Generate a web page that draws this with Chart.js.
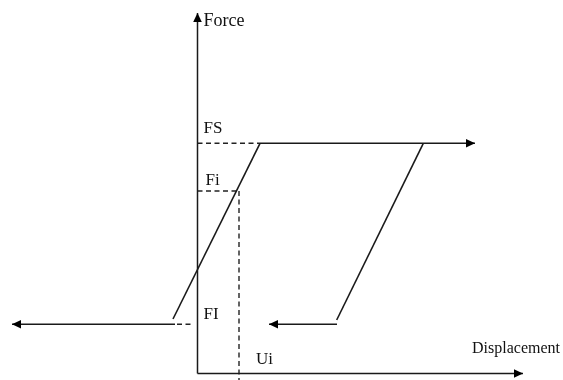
<!DOCTYPE html>
<html>
<head>
<meta charset="utf-8">
<script src="https://cdn.jsdelivr.net/npm/chart.js@4/dist/chart.umd.min.js"></script>
<style>
  html, body { margin: 0; padding: 0; background: #ffffff; }
  #wrap { width: 563px; height: 380px; }
</style>
</head>
<body>
<div id="wrap"><canvas id="c" width="563" height="380"></canvas></div>
<script>
// ---- data (displacement units, force units) ----
const axisNames   = ['Displacement', 'Force'];
const axisEnds    = [32.55, 36.05];          // x-axis end, y-axis end
const loadX       = [-2.45, 6.25];
const loadY       = [5.45, 23.02];
const yieldX      = [6.25, 27.75];
const yieldY      = [23.02, 23.02];
const unloadX     = [13.92, 22.58];
const unloadY     = [5.35, 23.02];
const returnX     = [13.95, 7.15];
const returnY     = [4.92, 4.92];
const leftX       = [-2.25, -18.55];
const leftY       = [4.92, 4.92];
const levelNames  = ['FS', 'Fi', 'FI'];
const levelValues = [23.02, 18.25, 4.92];
const uiName      = 'Ui';
const uiValue     = 4.15;
const flBridgeX   = [-2.05, -0.4];           // dashed bit on the FI level

const pts = (xs, ys) => xs.map((x, i) => ({ x: x, y: ys[i] }));
const INK = '#1a1a1a';

function solid(data, arrow, w) {
  return { data: data, showLine: true, borderColor: INK, borderWidth: w || 1.6,
           pointRadius: 0, tension: 0, fill: false, arrow: !!arrow };
}
function dashed(data) {
  return { data: data, showLine: true, borderColor: '#222', borderWidth: 1.4,
           borderDash: [5, 3.5], pointRadius: 0, tension: 0, fill: false };
}

const datasets = [
  solid(pts([0, 0], [0, axisEnds[1]]), true, 1.5),                 // force axis
  solid(pts([0, axisEnds[0]], [0, 0]), true, 1.5),                 // displacement axis
  solid(pts(loadX, loadY)),
  solid(pts(yieldX, yieldY), true),
  solid(pts(unloadX, unloadY)),
  solid(pts(returnX, returnY), true),
  solid(pts(leftX, leftY), true),
  dashed(pts([0, yieldX[0]], [levelValues[0], levelValues[0]])),   // FS guide
  dashed(pts([0, uiValue], [levelValues[1], levelValues[1]])),     // Fi guide
  dashed(pts([uiValue, uiValue], [levelValues[1], -0.9])),         // Ui guide
  dashed(pts(flBridgeX, [levelValues[2], levelValues[2]]))         // FI guide
];

const arrowPlugin = {
  id: 'arrows',
  afterDatasetsDraw(chart) {
    const ctx = chart.ctx;
    chart.data.datasets.forEach((ds, i) => {
      if (!ds.arrow) return;
      const els = chart.getDatasetMeta(i).data;
      const a = els[els.length - 2], b = els[els.length - 1];
      const ang = Math.atan2(b.y - a.y, b.x - a.x);
      const L = 9, H = 4.3;
      ctx.save();
      ctx.fillStyle = '#000';
      ctx.translate(b.x, b.y);
      ctx.rotate(ang);
      ctx.beginPath();
      ctx.moveTo(0, 0);
      ctx.lineTo(-L, -H);
      ctx.lineTo(-L, H);
      ctx.closePath();
      ctx.fill();
      ctx.restore();
    });
  }
};

const textPlugin = {
  id: 'texts',
  afterDraw(chart) {
    const ctx = chart.ctx, xs = chart.scales.x, ys = chart.scales.y;
    const x0 = xs.getPixelForValue(0), y0 = ys.getPixelForValue(0);
    ctx.save();
    ctx.fillStyle = '#111';
    ctx.textBaseline = 'alphabetic';
    ctx.textAlign = 'left';
    ctx.font = '18px "Liberation Serif", serif';
    ctx.fillText(axisNames[1], x0 + 6, ys.getPixelForValue(axisEnds[1]) + 13);
    ctx.font = '17px "Liberation Serif", serif';
    const offs = [-10, -6, -5];
    levelNames.forEach((n, i) => {
      ctx.fillText(n, x0 + (i === 1 ? 8 : 6), ys.getPixelForValue(levelValues[i]) + offs[i]);
    });
    ctx.fillText(uiName, xs.getPixelForValue(uiValue) + 17, y0 - 10);
    ctx.font = '16px "Liberation Serif", serif';
    ctx.fillText(axisNames[0], xs.getPixelForValue(axisEnds[0]) - 51, y0 - 21);
    ctx.restore();
  }
};

new Chart(document.getElementById('c'), {
  type: 'scatter',
  data: { datasets: datasets },
  options: {
    responsive: false,
    animation: false,
    layout: { padding: 0 },
    plugins: { legend: { display: false }, tooltip: { enabled: false } },
    elements: { line: { borderCapStyle: 'butt' } },
    scales: {
      x: { type: 'linear', display: false, min: -19.75, max: 36.55 },
      y: { type: 'linear', display: false, min: -0.65, max: 37.35 }
    }
  },
  plugins: [arrowPlugin, textPlugin]
});
</script>
</body>
</html>
